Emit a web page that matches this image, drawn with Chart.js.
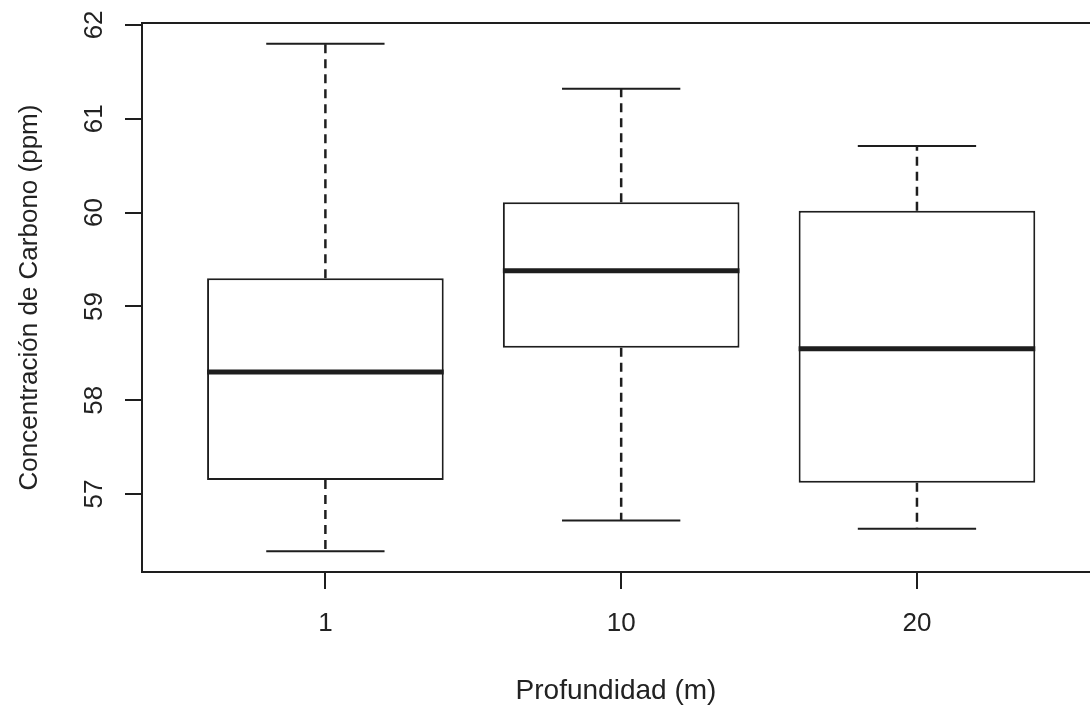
<!DOCTYPE html>
<html>
<head>
<meta charset="utf-8">
<script src="https://cdn.jsdelivr.net/npm/chart.js@4"></script>
<style>
  html, body { margin: 0; padding: 0; background: #fff; overflow: hidden; }
  #wrap { width: 1090px; height: 709px; position: relative; }
</style>
</head>
<body>
<div id="wrap"><canvas id="boxChart"></canvas></div>
<script>
// datos del boxplot
const categories = ['1', '10', '20'];
const whiskerLow = [56.39, 56.72, 56.63];
const quartile1 = [57.15, 58.56, 57.12];
const medians = [58.30, 59.38, 58.55];
const quartile3 = [59.30, 60.11, 60.02];
const whiskerHigh = [61.80, 61.32, 60.71];
const yTicks = [57, 58, 59, 60, 61, 62];

const BOX_HALF = 0.4;   // boxwex 0.8
const CAP_HALF = 0.2;   // staple
const ink = '#1e1e1e';
const fontFamily = "'Liberation Sans', Arial, sans-serif";

// segmentos horizontales (mediana, topes)
function hSegments(values, half) {
    const pts = [];
    values.forEach((v, i) => {
        pts.push({ x: i + 1 - half, y: v }, { x: i + 1 + half, y: v }, { x: i + 1.5, y: null });
    });
    return pts;
}

// segmentos verticales (bigotes)
function vSegments(from, to) {
    const pts = [];
    from.forEach((v, i) => {
        pts.push({ x: i + 1, y: v }, { x: i + 1, y: to[i] }, { x: i + 1, y: null });
    });
    return pts;
}

const lineBase = { type: 'line', pointRadius: 0, fill: false, tension: 0, spanGaps: false, borderColor: ink };

// linea superior del marco
const topFrame = {
    id: 'topFrame',
    afterDraw(chart) {
        const { ctx, chartArea } = chart;
        ctx.save();
        ctx.strokeStyle = ink;
        ctx.lineWidth = 2;
        ctx.beginPath();
        ctx.moveTo(chartArea.left, chartArea.top);
        ctx.lineTo(chartArea.right, chartArea.top);
        ctx.stroke();
        ctx.restore();
    }
};

const ctx = document.getElementById('boxChart').getContext('2d');
const boxChart = new Chart(ctx, {
    data: {
        datasets: [
            {
                ...lineBase,
                label: 'mediana',
                data: hSegments(medians, BOX_HALF),
                borderWidth: 5,
                borderCapStyle: 'butt',
                order: 0
            },
            {
                type: 'bar',
                label: 'caja',
                data: categories.map((c, i) => ({ x: i + 1, y: [quartile1[i], quartile3[i]] })),
                backgroundColor: '#ffffff',
                borderColor: ink,
                borderWidth: 2,
                borderSkipped: false,
                barPercentage: 0.8,
                categoryPercentage: 1,
                order: 1
            },
            {
                ...lineBase,
                label: 'bigotes',
                data: vSegments(quartile3, whiskerHigh).concat(vSegments(quartile1, whiskerLow)),
                borderWidth: 2.5,
                borderDash: [9, 6],
                order: 2
            },
            {
                ...lineBase,
                label: 'topes',
                data: hSegments(whiskerHigh, CAP_HALF).concat(hSegments(whiskerLow, CAP_HALF)),
                borderWidth: 2,
                order: 2
            }
        ]
    },
    options: {
        responsive: true,
        maintainAspectRatio: false,
        animation: false,
        layout: {
            padding: { top: 23, right: 0, bottom: 0, left: 0 }
        },
        plugins: {
            legend: { display: false },
            tooltip: { enabled: false }
        },
        scales: {
            x: {
                type: 'linear',
                offset: false,
                min: 0.38,
                max: 3.585,
                afterBuildTicks: (scale) => { scale.ticks = categories.map((c, i) => ({ value: i + 1 })); },
                afterFit: (scale) => {
                    scale.height = 137;
                    scale.paddingLeft = 0;
                    scale.paddingRight = 0;
                },
                border: { display: true, color: ink, width: 2 },
                grid: { display: true, offset: false, drawOnChartArea: false, drawTicks: true, tickLength: 17, color: ink, lineWidth: 2 },
                ticks: {
                    autoSkip: false,
                    maxRotation: 0,
                    padding: 19,
                    color: '#222',
                    font: { family: fontFamily, size: 26 },
                    callback: (v) => categories[v - 1]
                },
                title: {
                    display: true,
                    text: 'Profundidad (m)',
                    color: '#222',
                    font: { family: fontFamily, size: 28 },
                    padding: { top: 0, bottom: 1 }
                }
            },
            y: {
                type: 'linear',
                min: 56.17,
                max: 62.02,
                afterBuildTicks: (scale) => { scale.ticks = yTicks.map(v => ({ value: v })); },
                afterFit: (scale) => {
                    scale.width = 142;
                    scale.paddingTop = 0;
                    scale.paddingBottom = 0;
                },
                border: { display: true, color: ink, width: 2 },
                grid: { display: true, drawOnChartArea: false, drawTicks: true, tickLength: 17, color: ink, lineWidth: 2 },
                ticks: {
                    autoSkip: false,
                    minRotation: 90,
                    maxRotation: 90,
                    crossAlign: 'center',
                    padding: 16,
                    color: '#222',
                    font: { family: fontFamily, size: 26 }
                },
                title: {
                    display: true,
                    text: 'Concentración de Carbono (ppm)',
                    color: '#222',
                    font: { family: fontFamily, size: 26 },
                    padding: { top: 14, bottom: 0 }
                }
            }
        }
    },
    plugins: [topFrame]
});
</script>
</body>
</html>
